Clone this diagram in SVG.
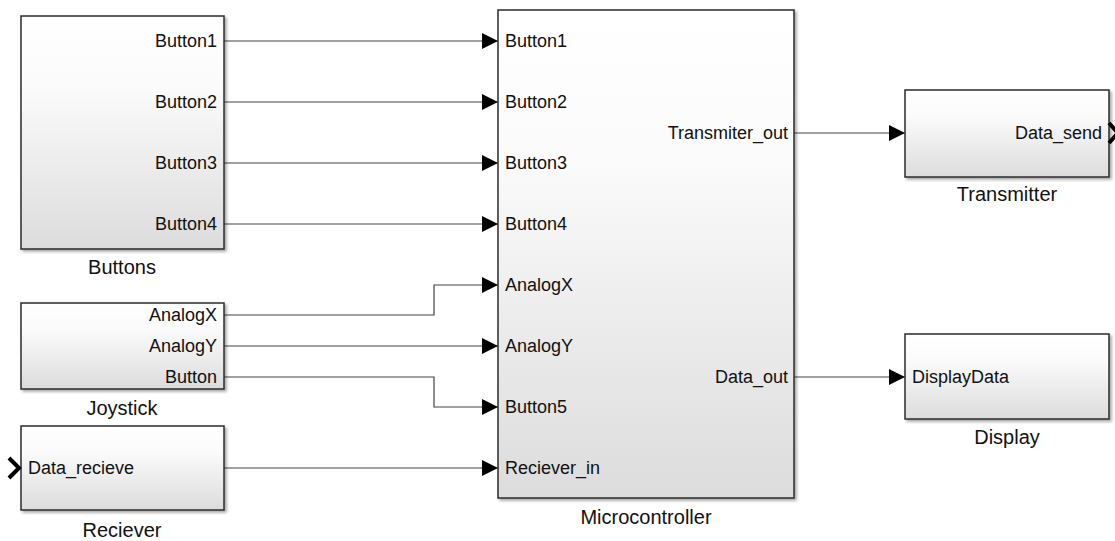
<svg xmlns="http://www.w3.org/2000/svg" width="1115" height="541" viewBox="0 0 1115 541">
  <defs>
    <linearGradient id="blockFill" x1="0" y1="0" x2="0" y2="1">
      <stop offset="0" stop-color="#ffffff"/>
      <stop offset="0.3" stop-color="#fbfbfb"/>
      <stop offset="1" stop-color="#dcdcdc"/>
    </linearGradient>
    <filter id="shadow" x="-5%" y="-5%" width="110%" height="110%">
      <feGaussianBlur in="SourceAlpha" stdDeviation="1.5"/>
      <feOffset dx="2" dy="2" result="b"/>
      <feComponentTransfer><feFuncA type="linear" slope="0.35"/></feComponentTransfer>
      <feMerge><feMergeNode/><feMergeNode in="SourceGraphic"/></feMerge>
    </filter>
    <marker id="arrow" viewBox="0 0 16 16" refX="16" refY="8" markerWidth="16" markerHeight="16" markerUnits="userSpaceOnUse" orient="auto">
      <path d="M0,0 L16,8 L0,16 Z" fill="#000"/>
    </marker>
  </defs>
  <style>
    .block { fill: url(#blockFill); stroke: #2b2b2b; stroke-width: 1.5; filter: url(#shadow); }
    .port { font-family: "Liberation Sans", Arial, sans-serif; font-size: 18px; fill: #111; }
    .name { font-family: "Liberation Sans", Arial, sans-serif; font-size: 20px; fill: #111; text-anchor: middle; }
    .right { text-anchor: end; }
    .wire { fill: none; stroke: #444; stroke-width: 1.2; marker-end: url(#arrow); }
    .chevron { fill: none; stroke: #000; stroke-width: 4; }
  </style>

  <rect width="1115" height="541" fill="#ffffff"/>

  <g id="connectors">
    <path class="wire" d="M224,41 H498"/>
    <path class="wire" d="M224,102 H498"/>
    <path class="wire" d="M224,163 H498"/>
    <path class="wire" d="M224,224 H498"/>
    <path class="wire" d="M224,315 H434 V285 H498"/>
    <path class="wire" d="M224,346 H498"/>
    <path class="wire" d="M224,377 H434 V407 H498"/>
    <path class="wire" d="M224,468 H498"/>
    <path class="wire" d="M794,133 H905"/>
    <path class="wire" d="M794,377 H905"/>
  </g>

  <g id="buttons">
    <rect class="block" x="21" y="16" width="203" height="233"/>
    <text class="port right" x="217" y="47">Button1</text>
    <text class="port right" x="217" y="108">Button2</text>
    <text class="port right" x="217" y="169">Button3</text>
    <text class="port right" x="217" y="230">Button4</text>
    <text class="name" x="122" y="274">Buttons</text>
  </g>

  <g id="joystick">
    <rect class="block" x="21" y="303" width="203" height="86"/>
    <text class="port right" x="217" y="321">AnalogX</text>
    <text class="port right" x="217" y="352">AnalogY</text>
    <text class="port right" x="217" y="383">Button</text>
    <text class="name" x="122" y="415">Joystick</text>
  </g>

  <g id="reciever">
    <rect class="block" x="21" y="426" width="203" height="84"/>
    <path class="chevron" d="M9,458 L19,468 L9,478"/>
    <text class="port" x="28" y="474">Data_recieve</text>
    <text class="name" x="122" y="537">Reciever</text>
  </g>

  <g id="microcontroller">
    <rect class="block" x="498" y="10" width="296" height="488"/>
    <text class="port" x="505" y="47">Button1</text>
    <text class="port" x="505" y="108">Button2</text>
    <text class="port" x="505" y="169">Button3</text>
    <text class="port" x="505" y="230">Button4</text>
    <text class="port" x="505" y="291">AnalogX</text>
    <text class="port" x="505" y="352">AnalogY</text>
    <text class="port" x="505" y="413">Button5</text>
    <text class="port" x="505" y="474">Reciever_in</text>
    <text class="port right" x="788" y="139">Transmiter_out</text>
    <text class="port right" x="788" y="383">Data_out</text>
    <text class="name" x="646" y="524">Microcontroller</text>
  </g>

  <g id="transmitter">
    <rect class="block" x="905" y="90" width="204" height="87"/>
    <text class="port right" x="1102" y="139">Data_send</text>
    <path class="chevron" d="M1109,123 L1118,133 L1109,143"/>
    <text class="name" x="1007" y="201">Transmitter</text>
  </g>

  <g id="display">
    <rect class="block" x="905" y="334" width="204" height="85"/>
    <text class="port" x="912" y="383">DisplayData</text>
    <text class="name" x="1007" y="444">Display</text>
  </g>
</svg>
